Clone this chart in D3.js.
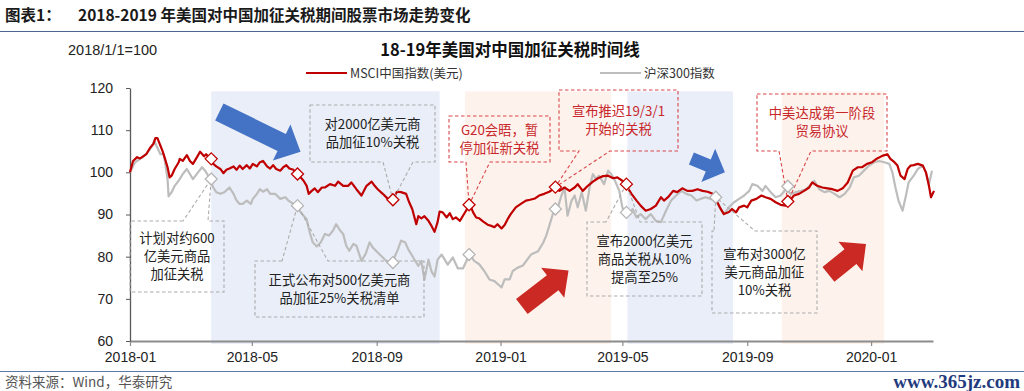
<!DOCTYPE html>
<html>
<meta charset="utf-8">
<style>
body { margin: 0; background: #fff; }
svg { display: block; font-family: "Liberation Sans", Arial, sans-serif; }
.cjk { font-family: "Noto Sans CJK SC", sans-serif; }
</style>
<body>
<script src="https://d3js.org/d3.v7.min.js"></script>
<script>
// series: day offset from 2018-01-01, index value (2018/1/1 = 100)
var msciDays = [0,3,7,10,13,16,20,23,25,27,30,32,34,37,39,41,44,48,49,52,56,59,62,66,69,73,75,79,82,85,89,92,95,98,102,105,108,111,115,118,121,125,128,131,135,138,141,144,148,151,154,157,161,164,167,171,174,176,179,182,185,189,192,197,202,205,210,215,218,223,228,233,238,241,244,249,254,259,263,267,272,275,278,282,284,287,290,294,297,300,303,305,308,312,315,318,321,325,328,331,335,338,341,344,348,353,356,359,362,366,369,372,375,380,385,390,394,399,403,408,413,418,423,428,433,438,441,446,451,456,461,466,471,476,480,485,489,494,499,503,508,513,518,523,526,530,535,539,544,549,554,559,564,569,574,577,581,585,590,593,597,600,605,608,612,617,622,626,631,636,641,646,650,654,659,664,669,672,677,682,687,692,697,702,707,712,717,721,726,731,736,741,746,749,753,756,759,763,766,769,772,776,781,784,787,789,792];
var msciVals = [100,102.7,103.6,103.3,103.8,104.3,105.9,106.7,108.1,108.1,106.3,105.1,103.6,101.2,98.8,99.2,100.8,102.4,103.2,102.7,104.1,102.7,102.0,103.6,104.9,103.8,104.3,103.2,102.0,101.4,100.8,99.8,100.6,100.9,101.4,100.6,101.6,100.8,101.7,100.9,102.0,101.4,102.4,102.7,101.4,100.9,101.7,100.8,100.4,101.2,101.7,100.9,100.6,99.6,99.1,98.0,96.8,94.9,95.6,96.2,95.3,96.4,96.4,97.2,96.8,97.8,96.8,96.8,97.6,96.0,94.5,96.8,97.8,96.8,96.0,94.9,93.7,93.5,95.4,95.3,94.9,92.9,91.3,87.7,89.6,89.1,89.6,88.5,87.3,85.9,88.2,90.7,90.5,89.3,90.3,88.9,89.3,88.5,89.7,90.9,92.3,90.5,89.3,89.1,88.3,87.5,87.3,87.0,87.7,86.7,87.5,88.9,90.1,91.7,92.5,93.3,93.5,93.8,94.5,94.9,95.4,96.2,95.6,96.4,95.6,96.4,97.2,95.6,96.8,97.8,98.6,99.1,99.2,98.6,98.8,98.0,96.8,94.9,93.3,92.1,90.9,91.3,92.1,94.1,93.3,94.1,95.6,95.3,96.2,95.6,95.6,96.0,95.6,95.4,94.9,93.7,91.7,90.1,90.6,91.3,90.5,91.7,92.1,91.7,93.3,93.7,94.5,94.1,93.7,92.9,92.3,92.1,93.3,94.5,94.9,95.6,96.4,97.6,96.8,96.4,96.2,96.0,95.6,96.2,97.6,100.4,101.2,101.2,102.0,102.4,103.3,103.9,104.3,103.2,102.4,101.6,99.2,98.4,100.8,101.6,101.7,102.0,101.6,100.0,96.8,94.1,95.6];

var csiDays = [0,5,10,16,21,24,26,30,33,34,37,38,41,44,49,52,56,59,62,67,71,74,77,79,82,85,89,93,98,102,105,108,111,115,119,121,125,128,131,135,138,143,148,153,156,161,164,167,171,174,177,180,184,188,192,196,200,203,207,210,213,216,220,223,228,232,236,239,244,249,254,259,264,267,271,274,279,284,287,290,294,297,300,303,307,310,313,318,323,328,333,335,339,344,349,354,359,366,369,374,377,382,387,395,402,407,410,413,418,422,425,428,431,435,438,441,445,449,453,456,459,462,467,471,474,477,482,485,487,492,495,499,503,508,513,518,523,528,533,538,543,548,553,558,562,567,572,577,581,585,590,595,600,605,610,613,618,623,626,631,636,641,646,651,656,661,666,671,674,679,684,689,694,699,704,709,713,718,723,728,733,738,743,748,751,754,757,761,764,767,772,776,781,784,787,790];
var csiVals = [100,102.4,103.2,104.3,105.9,107.5,106.3,104.3,104.3,103.2,98.4,94.3,95.3,96.8,98.4,99.6,100.8,99.6,98.4,100.0,101.2,100.4,99.2,98.4,96.4,95.3,94.9,95.3,96.4,94.9,93.3,92.5,92.5,93.3,92.5,93.7,94.9,96.0,95.4,96.0,94.9,94.9,93.7,94.1,93.3,92.5,92.1,90.9,89.7,88.9,85.8,83.4,82.4,83.4,85.4,85.0,86.2,87.7,86.2,85.4,82.6,81.4,83.0,82.6,79.0,80.6,83.4,82.2,81.0,79.8,78.6,79.0,81.8,83.8,83.4,81.8,79.8,77.8,79.0,74.5,79.3,76.5,75.3,79.3,80.5,79.3,78.1,79.8,77.2,77.2,79.8,80.5,79.0,78.2,76.6,74.6,74.2,72.7,74.6,74.6,76.6,77.4,77.9,80.5,81.3,83.3,85.0,87.3,91.3,92.1,94.5,96.4,89.7,93.3,94.5,91.7,95.3,90.9,96.8,99.6,98.4,99.2,97.2,100.4,99.6,98.4,95.6,91.7,90.5,90.1,91.3,89.3,90.1,88.9,90.1,88.5,88.2,90.9,93.3,94.5,95.6,94.9,94.5,93.3,93.7,94.1,93.7,93.3,91.7,90.1,91.7,92.9,93.7,94.5,95.6,97.2,96.8,95.6,96.8,95.3,94.1,94.5,96.0,94.9,95.3,95.6,96.0,97.2,98.0,96.0,95.3,95.6,94.9,94.1,94.9,96.4,98.8,99.2,100.4,101.6,102.4,102.7,102.4,102.0,100.0,96.4,93.3,90.9,94.1,97.6,99.2,100.8,101.6,100.0,97.2,100.4];

var xTicks = ["2018-01-01","2018-05-01","2018-09-01","2019-01-01","2019-05-01","2019-09-01","2020-01-01"];
var yTicks = [60,70,80,90,100,110,120];

// tariff events and the index level at each marker (null = no marker)
var eventDates = ["2018-03-22","2018-06-15","2018-09-17","2018-12-01","2019-02-24","2019-05-05","2019-08-01","2019-10-11"];
var eventMsci = [103.2,99.6,93.5,92.3,96.5,97.2,null,93.1];
var eventCsi = [98.4,92.1,78.6,80.5,91.3,90.5,94.1,96.7];

var blueSpans = [["2018-03-22","2018-11-02"],["2019-05-06","2019-08-18"]];
var peachSpans = [["2018-11-27","2019-04-20"],["2019-10-05","2020-01-14"]];

// trend arrows: [day, value] of tail and tip
var blueArrows = [[[88,114.3],[168,104.9]],[[553,103.3],[586,100.0]]];
var redArrows = [[[386,68.2],[432,76.7]],[[688,75.8],[725,83.0]]];

var calloutTexts = [
  ["计划对约600","亿美元商品","加征关税"],
  ["正式公布对500亿美元商","品加征25%关税清单"],
  ["对2000亿美元商","品加征10%关税"],
  ["G20会晤，暂","停加征新关税"],
  ["宣布推迟19/3/1","开始的关税"],
  ["宣布2000亿美元","商品关税从10%","提高至25%"],
  ["宣布对3000亿","美元商品加征","10%关税"],
  ["中美达成第一阶段","贸易协议"]
];

// callout layout: box in px, side of the pointer, gap on that side, which marker it points at
var calloutLayout = [
  {box:[130,221,224,292], side:"top", gap:[183,208], target:"csi", red:false},
  {box:[255,261,424,317], side:"top", gap:[282,328], target:"csi", red:false},
  {box:[310,105,435,162], side:"bottom", gap:[383,413], target:"msci", red:false},
  {box:[449,116,550,162], side:"bottom", gap:[466,490], target:"msci", red:true},
  {box:[559,90,678,151], side:"bottom", gap:[579,610], target:"msci", red:true},
  {box:[587,222,702,296], side:"top", gap:[606,640], target:"msci", red:false},
  {box:[712,231,817,313], side:"top", gap:[714,755], target:"csi", red:false},
  {box:[757,94,887,151], side:"bottom", gap:[779,811], target:"msci", red:true}
];

var W = 1024, H = 391;
var parseDate = d3.timeParse("%Y-%m-%d");
var base = parseDate("2018-01-01");
function dayDate(d) { return d3.timeDay.offset(base, d); }

var x = d3.scaleTime().domain([base, parseDate("2020-03-02")]).range([130, 933]);
var y = d3.scaleLinear().domain([60, 120]).range([341, 88]);

var svg = d3.select("body").append("svg")
    .attr("width", W)
    .attr("height", H);

// header
svg.append("text").attr("class", "cjk")
    .attr("x", 5).attr("y", 21)
    .style("font-size", "15.5px").style("font-weight", "bold").style("fill", "#1a1a1a")
    .text("图表1：");
svg.append("text").attr("class", "cjk")
    .attr("x", 78).attr("y", 21)
    .style("font-size", "15.5px").style("font-weight", "bold").style("fill", "#1a1a1a")
    .text("2018-2019 年美国对中国加征关税期间股票市场走势变化");
svg.append("line")
    .attr("x1", 0).attr("x2", W).attr("y1", 31.5).attr("y2", 31.5)
    .style("stroke", "#4a6590").style("stroke-width", 1.2);

svg.append("text")
    .attr("x", 68).attr("y", 55)
    .style("font-size", "14.5px").style("fill", "#222")
    .text("2018/1/1=100");
svg.append("text").attr("class", "cjk")
    .attr("x", 510).attr("y", 56)
    .attr("text-anchor", "middle")
    .style("font-size", "16.5px").style("font-weight", "bold").style("fill", "#111")
    .text("18-19年美国对中国加征关税时间线");

// legend
var legend = [
  {x: 306, color: "#C00000", label: "MSCI中国指数(美元)"},
  {x: 600, color: "#BDBDBD", label: "沪深300指数"}
];
var lg = svg.selectAll(".legend").data(legend).enter().append("g").attr("class", "legend");
lg.append("line")
    .attr("x1", function(d) { return d.x; })
    .attr("x2", function(d) { return d.x + 41; })
    .attr("y1", 73).attr("y2", 73)
    .style("stroke", function(d) { return d.color; })
    .style("stroke-width", 2);
lg.append("text").attr("class", "cjk")
    .attr("x", function(d) { return d.x + 44; })
    .attr("y", 77.5)
    .style("font-size", "12.5px").style("fill", "#333")
    .text(function(d) { return d.label; });

// shaded periods
function spans(list, color) {
  svg.append("g").selectAll("rect").data(list).enter().append("rect")
      .attr("x", function(d) { return x(parseDate(d[0])); })
      .attr("width", function(d) { return x(parseDate(d[1])) - x(parseDate(d[0])); })
      .attr("y", y(119.2))
      .attr("height", y(60) - y(119.2) + 3)
      .style("fill", color);
}
spans(blueSpans, "#E9EEF8");
spans(peachSpans, "#FDF3EC");

// arrows
function arrowPoints(a, w, hw, hl) {
  var t = [x(dayDate(a[0][0])), y(a[0][1])], p = [x(dayDate(a[1][0])), y(a[1][1])];
  var dx = p[0] - t[0], dy = p[1] - t[1], len = Math.sqrt(dx * dx + dy * dy);
  var ux = dx / len, uy = dy / len, nx = -uy, ny = ux;
  var b = [p[0] - ux * hl, p[1] - uy * hl];
  return [
    [t[0] + nx * w / 2, t[1] + ny * w / 2],
    [b[0] + nx * w / 2, b[1] + ny * w / 2],
    [b[0] + nx * hw / 2, b[1] + ny * hw / 2],
    p,
    [b[0] - nx * hw / 2, b[1] - ny * hw / 2],
    [b[0] - nx * w / 2, b[1] - ny * w / 2],
    [t[0] - nx * w / 2, t[1] - ny * w / 2]
  ].map(function(q) { return q.join(","); }).join(" ");
}
svg.append("g").selectAll("polygon").data(blueArrows).enter().append("polygon")
    .attr("points", function(d, i) { return i == 0 ? arrowPoints(d, 19, 40, 21) : arrowPoints(d, 13, 36, 18); })
    .style("fill", "#4472C4");
svg.append("g").selectAll("polygon").data(redArrows).enter().append("polygon")
    .attr("points", function(d) { return arrowPoints(d, 19, 38, 20); })
    .style("fill", "#CB2A24");

// axes
var xAxis = d3.axisBottom(x)
    .tickValues(xTicks.map(parseDate))
    .tickFormat(d3.timeFormat("%Y-%m"))
    .tickSize(5).tickSizeOuter(0).tickPadding(6);
var gx = svg.append("g")
    .attr("transform", "translate(0," + y(60) + ")")
    .call(xAxis);
gx.select(".domain").style("stroke", "#8c8c8c").style("stroke-width", 2);
gx.selectAll(".tick line").style("stroke", "#8c8c8c").style("stroke-width", 1.2);
gx.selectAll("text").style("font-size", "14px").style("fill", "#222")
    .style("font-family", "'Liberation Sans', Arial, sans-serif");

var yAxis = d3.axisLeft(y).tickValues(yTicks).tickSize(4).tickSizeOuter(0).tickPadding(13);
var gy = svg.append("g")
    .attr("transform", "translate(130,0)")
    .call(yAxis);
gy.select(".domain").style("stroke", "#595959").style("stroke-width", 1.3);
gy.selectAll(".tick line").style("stroke", "#595959");
gy.selectAll("text").style("font-size", "14px").style("fill", "#222")
    .style("font-family", "'Liberation Sans', Arial, sans-serif");

// lines
var line = d3.line()
    .x(function(d) { return x(dayDate(d[0])); })
    .y(function(d) { return y(d[1]); });
var csi = d3.zip(csiDays, csiVals), msci = d3.zip(msciDays, msciVals);
svg.append("path").datum(csi).attr("d", line)
    .style("fill", "none").style("stroke", "#BDBDBD").style("stroke-width", 2.2)
    .style("stroke-linejoin", "round");
svg.append("path").datum(msci).attr("d", line)
    .style("fill", "none").style("stroke", "#C00000").style("stroke-width", 2.2)
    .style("stroke-linejoin", "round");

// callouts
function markerPos(i, which) {
  var v = which == "msci" ? eventMsci[i] : eventCsi[i];
  return [x(parseDate(eventDates[i])), y(v)];
}
function calloutPath(c, tip) {
  var b = c.box, g = c.gap;
  if (c.side == "top") {
    return "M" + g[0] + "," + b[1] + "L" + b[0] + "," + b[1] + "L" + b[0] + "," + b[3] +
      "L" + b[2] + "," + b[3] + "L" + b[2] + "," + b[1] + "L" + g[1] + "," + b[1] +
      "L" + tip[0] + "," + tip[1] + "Z";
  }
  return "M" + b[0] + "," + b[1] + "L" + b[2] + "," + b[1] + "L" + b[2] + "," + b[3] +
    "L" + g[1] + "," + b[3] + "L" + tip[0] + "," + tip[1] + "L" + g[0] + "," + b[3] +
    "L" + b[0] + "," + b[3] + "Z";
}
var co = svg.selectAll(".callout").data(calloutLayout).enter().append("g").attr("class", "callout");
co.append("path")
    .attr("d", function(d, i) { return calloutPath(d, markerPos(i, d.target)); })
    .style("fill", "none")
    .style("stroke", function(d) { return d.red ? "#D9464A" : "#ABABAB"; })
    .style("stroke-width", 1.1)
    .style("stroke-dasharray", "3.5,2.5");
co.each(function(d, i) {
  var lines = calloutTexts[i], lh = 18;
  var cx = (d.box[0] + d.box[2]) / 2, cy = (d.box[1] + d.box[3]) / 2;
  d3.select(this).selectAll("text").data(lines).enter().append("text")
      .attr("class", "cjk")
      .attr("x", cx)
      .attr("y", function(t, k) { return cy + (k - (lines.length - 1) / 2) * lh; })
      .attr("dy", "0.36em")
      .attr("text-anchor", "middle")
      .style("font-size", "13.3px")
      .style("fill", d.red ? "#C8282C" : "#222")
      .text(function(t) { return t; });
});

// event markers
function diamonds(vals, color) {
  var pts = [];
  vals.forEach(function(v, i) { if (v != null) pts.push([x(parseDate(eventDates[i])), y(v)]); });
  svg.append("g").selectAll("path").data(pts).enter().append("path")
      .attr("transform", function(d) { return "translate(" + d[0] + "," + d[1] + ")"; })
      .attr("d", "M0,-6L6,0L0,6L-6,0Z")
      .style("fill", "#fff")
      .style("stroke", color)
      .style("stroke-width", 1.3);
}
diamonds(eventCsi, "#B5B5B5");
diamonds(eventMsci, "#C00000");

// footer
svg.append("line")
    .attr("x1", 0).attr("x2", W).attr("y1", 371.5).attr("y2", 371.5)
    .style("stroke", "#5a78a8").style("stroke-width", 1.2);
svg.append("text").attr("class", "cjk")
    .attr("x", 5).attr("y", 387)
    .style("font-size", "13.5px").style("fill", "#555")
    .text("资料来源：Wind，华泰研究");
svg.append("text")
    .attr("x", 1020).attr("y", 388)
    .attr("text-anchor", "end")
    .style("font-family", "'Liberation Serif', 'DejaVu Serif', serif")
    .style("font-size", "19px").style("font-weight", "bold").style("fill", "#1f3b7e")
    .text("www.365jz.com");
</script>
</body>
</html>
